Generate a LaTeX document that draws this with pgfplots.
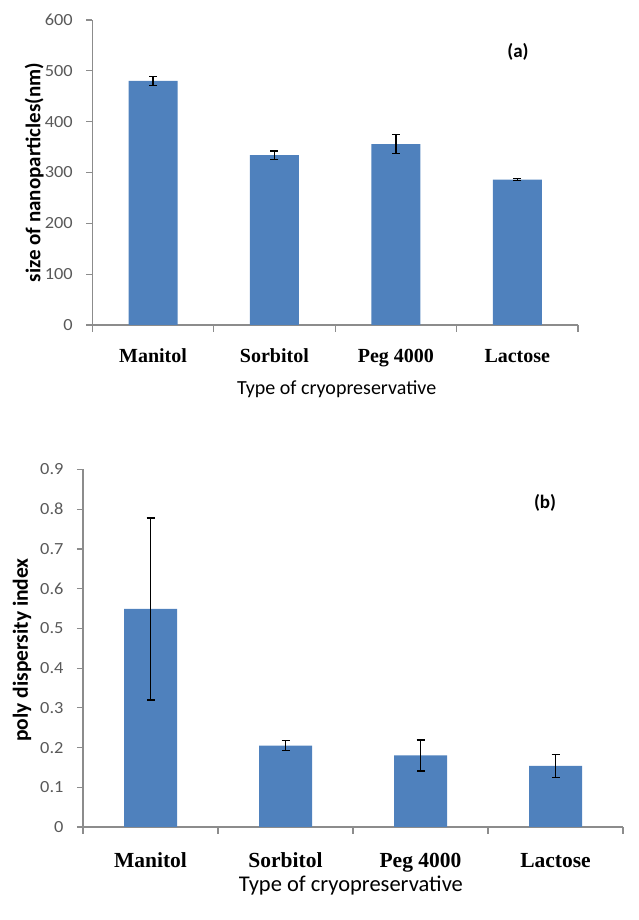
\documentclass[border=0pt]{standalone}
\usepackage{pgfplots}
\pgfplotsset{compat=1.18}
\usepackage{pgfplotstable}
\usepackage{fontspec}
\setmainfont{Carlito}
\newfontfamily\tnr{Liberation Serif}
\newfontfamily\tickfont[FakeStretch=1.08]{Carlito}
\definecolor{barblue}{HTML}{4F81BD}
\definecolor{axgray}{HTML}{8C8C8C}
\definecolor{ticktext}{HTML}{595959}

\pgfplotstableread{
x y e
0 480 9
1 334 8
2 356 19
3 286 2
}\sizedata
\pgfplotstableread{
x y e
0 0.549 0.229
1 0.205 0.013
2 0.180 0.039
3 0.154 0.029
}\pdidata

\pgfplotsset{
  common/.style={
    scale only axis,
    anchor=south west,
    clip=false,
    axis x line*=bottom, axis y line*=left,
    axis line style={draw=axgray, line width=1.2pt, -},
    tick align=outside,
    xmin=-0.5, xmax=3.5,
    xtick={0,1,2,3},
    xticklabels={Manitol,Sorbitol,Peg 4000,Lactose},
    x tick style={draw=none},
    y tick style={draw=axgray, line width=1.2pt},
    major tick length=6pt,
    extra x ticks={-0.5,0.5,1.5,2.5,3.5},
    extra x tick labels={},
    extra x tick style={major tick length=7pt, x tick style={draw=axgray, line width=1.2pt}},
    /pgf/number format/assume math mode=true,
    yticklabel style={font=\tickfont\fontsize{17}{17}\selectfont, text=ticktext, anchor=east, xshift=-10pt},
  }
}

\begin{document}
\begin{tikzpicture}
\path (0pt,0pt) rectangle (638pt,920pt);
% panel (a)
\begin{axis}[common,
  at={(92.3pt,595pt)},
  width=485.7pt, height=305pt,
  ymin=0, ymax=600, ytick={0,100,...,600},
  xticklabel style={font=\tnr\bfseries\fontsize{20}{20}\selectfont, anchor=base, yshift=-31.6pt},
  xlabel={Type of cryopreservative},
  xlabel style={font=\fontsize{20}{20}\selectfont, at={(axis description cs:0.503,-0.228)}, anchor=base},
  ylabel={size of nanoparticles(nm)},
  ylabel style={font=\bfseries\fontsize{21}{21}\selectfont, at={(axis description cs:-0.107,0.5)}, anchor=base},
]
\addplot[ybar, bar width=49pt, fill=barblue, draw=none,
  error bars/.cd, y dir=both, y explicit,
  error bar style={black, line width=1.3pt},
  error mark options={rotate=90, mark size=4pt, black, line width=1.3pt}]
  table[x=x, y=y, y error=e] {\sizedata};
\node[font=\bfseries\fontsize{19}{19}\selectfont] at (rel axis cs:0.8765,0.896) {(a)};
\end{axis}
% panel (b)
\begin{axis}[common,
  at={(83pt,93pt)},
  width=540pt, height=357.5pt,
  ymin=0, ymax=0.9, ytick={0,0.1,...,0.9},
  yticklabel style={/pgf/number format/.cd, fixed, precision=1},
  xticklabel style={font=\tnr\bfseries\fontsize{21.5}{21.5}\selectfont, anchor=base, yshift=-35pt},
  xlabel={Type of cryopreservative},
  xlabel style={font=\fontsize{22.5}{22.5}\selectfont, at={(axis description cs:0.496,-0.1818)}, anchor=base},
  ylabel={poly dispersity index},
  ylabel style={font=\bfseries\fontsize{21.5}{21.5}\selectfont, at={(axis description cs:-0.1022,0.495)}, anchor=base},
]
\addplot[ybar, bar width=53pt, fill=barblue, draw=none,
  error bars/.cd, y dir=both, y explicit,
  error bar style={black, line width=1.3pt},
  error mark options={rotate=90, mark size=4pt, black, line width=1.3pt}]
  table[x=x, y=y, y error=e] {\pdidata};
\node[font=\bfseries\fontsize{19}{19}\selectfont] at (rel axis cs:0.8556,0.907) {(b)};
\end{axis}
\end{tikzpicture}
\end{document}
